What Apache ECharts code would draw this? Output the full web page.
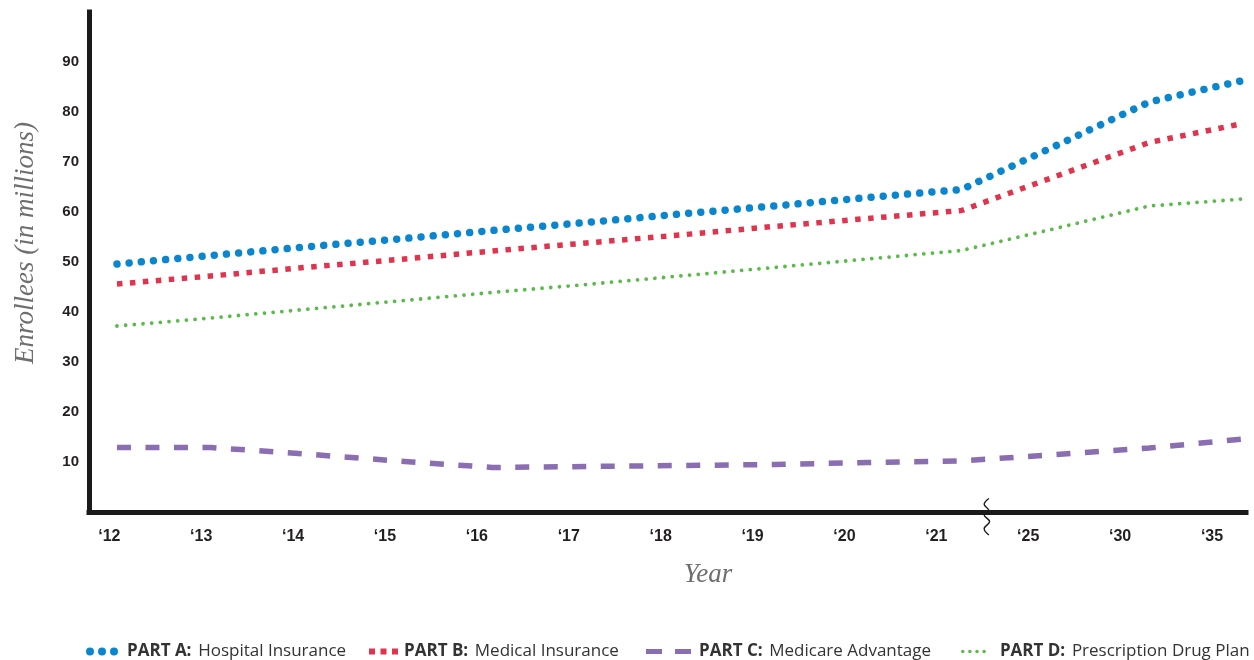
<!DOCTYPE html>
<html>
<head>
<meta charset="utf-8">
<script src="https://cdn.jsdelivr.net/npm/echarts@6/dist/echarts.min.js"></script>
<style>
  html, body { margin: 0; padding: 0; background: #ffffff; }
  #chart { width: 1254px; height: 660px; }
</style>
</head>
<body>
<div id="chart"></div>
<script>
// Year tick labels (the axis breaks between 2021 and 2025)
const yearLabels = ['\u201812', '\u201813', '\u201814', '\u201815', '\u201816', '\u201817',
                    '\u201818', '\u201819', '\u201820', '\u201821', '\u201825', '\u201830', '\u201835'];

// Medicare enrollment, millions, one value per plotted year
const partA = [49.6, 51.3, 53.0, 54.6, 56.3, 57.9, 59.6, 61.2, 62.9, 64.5, 73.2, 82.0, 86.3];
const partB = [45.6, 47.2, 48.9, 50.5, 52.2, 53.8, 55.4, 57.1, 58.7, 60.3, 67.1, 73.9, 77.7];
const partC = [12.9, 12.9, 11.6, 10.2, 8.9, 9.1, 9.3, 9.5, 9.9, 10.2, 11.5, 12.8, 14.6];
const partD = [37.2, 38.8, 40.5, 42.2, 43.9, 45.5, 47.2, 48.9, 50.6, 52.3, 56.7, 61.2, 62.6];

// Y ticks
const yTicks = [10, 20, 30, 40, 50, 60, 70, 80, 90];

// Series names (bold part before the colon)
const names = ['PART A: Hospital Insurance', 'PART B: Medical Insurance',
               'PART C: Medicare Advantage', 'PART D: Prescription Drug Plan'];

// Legend icon made of n round dots
function dotsPath(n, r, step) {
  let p = 'path://';
  for (let k = 0; k < n; k++) {
    const x = k * step;
    p += 'M' + x + ',' + r + 'a' + r + ',' + r + ' 0 1,0 ' + (2 * r) + ',0a' + r + ',' + r + ' 0 1,0 ' + (-2 * r) + ',0Z';
  }
  return p;
}

const styles = [
  { color: '#0a86cf', width: 7.5, dash: [0.01, 12.2], cap: 'round',
    icon: dotsPath(3, 4, 12), iw: 32, ih: 8, left: 86, gap: 4 },
  { color: '#e0344e', width: 5.5, dash: [5.5, 7.5], cap: 'butt',
    icon: 'path://M0,0h6v6h-6ZM11.5,0h6v6h-6ZM23,0h6v6h-6Z', iw: 29, ih: 6, left: 369, gap: 1 },
  { color: '#8b6db2', width: 5.5, dash: [14, 14.5], cap: 'butt',
    icon: 'path://M0,0h16v5h-16ZM29,0h16v5h-16Z', iw: 45, ih: 5, left: 646, gap: 3 },
  { color: '#5bbb4a', width: 3.8, dash: [0.01, 8.7], cap: 'round',
    icon: dotsPath(4, 1.8, 7.1), iw: 24.9, ih: 3.6, left: 961, gap: 9 }
];

const values = [partA, partB, partC, partD];
const ink = '#231f20';
const titleGrey = '#6e6e6e';

const chart = echarts.init(document.getElementById('chart'), null, { renderer: 'canvas' });

const series = values.map((arr, s) => ({
  name: names[s],
  type: 'line',
  xAxisIndex: 0,
  yAxisIndex: 0,
  data: arr.map((v, i) => [i, v]),
  showSymbol: false,
  symbol: 'none',
  smooth: false,
  silent: true,
  animation: false,
  z: 3 + (3 - s),
  lineStyle: {
    color: styles[s].color,
    width: styles[s].width,
    type: styles[s].dash,
    cap: styles[s].cap,
    join: 'round'
  }
}));

const legends = names.map((nm, s) => ({
  show: true,
  data: [{ name: nm, icon: styles[s].icon,
           itemStyle: { color: styles[s].color, borderWidth: 0, borderColor: 'transparent' } }],
  left: styles[s].left,
  top: 643,
  padding: 0,
  width: 700,
  orient: 'horizontal',
  itemWidth: styles[s].iw,
  itemHeight: styles[s].ih,
  selectedMode: false,
  formatter: function (name) {
    const cut = name.indexOf(':');
    return '{b|' + name.slice(0, cut + 1) + '}  {r|' + name.slice(cut + 2) + '}';
  },
  textStyle: {
    rich: {
      b: { fontFamily: 'Open Sans', fontWeight: 'bold', fontSize: 17, color: '#333333',
           padding: [0, 0, 0, styles[s].gap] },
      r: { fontFamily: 'Open Sans', fontSize: 17, color: '#333333' }
    }
  }
}));

chart.setOption({
  animation: false,
  backgroundColor: '#ffffff',
  grid: { left: 89, right: 8, top: 12, bottom: 148, containLabel: false },
  legend: legends,
  xAxis: [
    {
      // axis carrying the plotted years
      type: 'value',
      position: 'bottom',
      min: -0.298,
      max: 12.032,
      axisLine: { show: true, onZero: false, lineStyle: { color: '#1a1a1a', width: 5, cap: 'square' } },
      axisTick: { show: false },
      axisLabel: { show: false },
      splitLine: { show: false }
    },
    {
      // axis carrying the year tick labels
      type: 'value',
      position: 'bottom',
      min: -0.221,
      max: 12.37,
      axisLine: { show: false, onZero: false },
      axisTick: { show: false },
      splitLine: { show: false },
      axisLabel: {
        show: true,
        customValues: yearLabels.map((_, i) => i),
        formatter: v => yearLabels[Math.round(v)],
        margin: 17,
        fontFamily: 'Liberation Sans',
        fontWeight: 'bold',
        fontSize: 16,
        color: ink
      },
      name: 'Year',
      nameLocation: 'middle',
      nameGap: 49,
      nameTextStyle: {
        fontFamily: 'Liberation Serif',
        fontStyle: 'italic',
        fontSize: 27,
        color: titleGrey,
        padding: [0, 0, 0, 81]
      }
    }
  ],
  yAxis: {
    type: 'value',
    min: 0,
    max: 100,
    interval: 10,
    axisLine: { show: true, onZero: false, lineStyle: { color: '#1a1a1a', width: 5, cap: 'square' } },
    axisTick: { show: false },
    splitLine: { show: false },
    axisLabel: {
      show: true,
      customValues: yTicks,
      margin: 10,
      fontFamily: 'Liberation Sans',
      fontWeight: 'bold',
      fontSize: 15,
      color: ink
    },
    name: 'Enrollees (in millions)',
    nameLocation: 'middle',
    nameRotate: 90,
    nameGap: 50,
    nameTextStyle: {
      fontFamily: 'Liberation Serif',
      fontStyle: 'italic',
      fontSize: 27,
      color: titleGrey,
      padding: [0, 0, 0, 38]
    }
  },
  series: series
});

// Axis-break marker between 2021 and 2025
const bx = chart.convertToPixel({ xAxisIndex: 1 }, 9.55);
const by = chart.convertToPixel({ yAxisIndex: 0 }, 0);
chart.setOption({
  graphic: [{
    type: 'polyline',
    x: bx,
    y: by,
    z: 100,
    silent: true,
    shape: {
      points: [[2, -13.5], [-2.7, -7.7], [2, -1.5], [-2.7, 3], [2.7, 9.6], [-2.7, 16.6], [2, 23]],
      smooth: 0.4
    },
    style: { stroke: '#1a1a1a', lineWidth: 1.4, fill: null }
  }]
});
</script>
</body>
</html>
